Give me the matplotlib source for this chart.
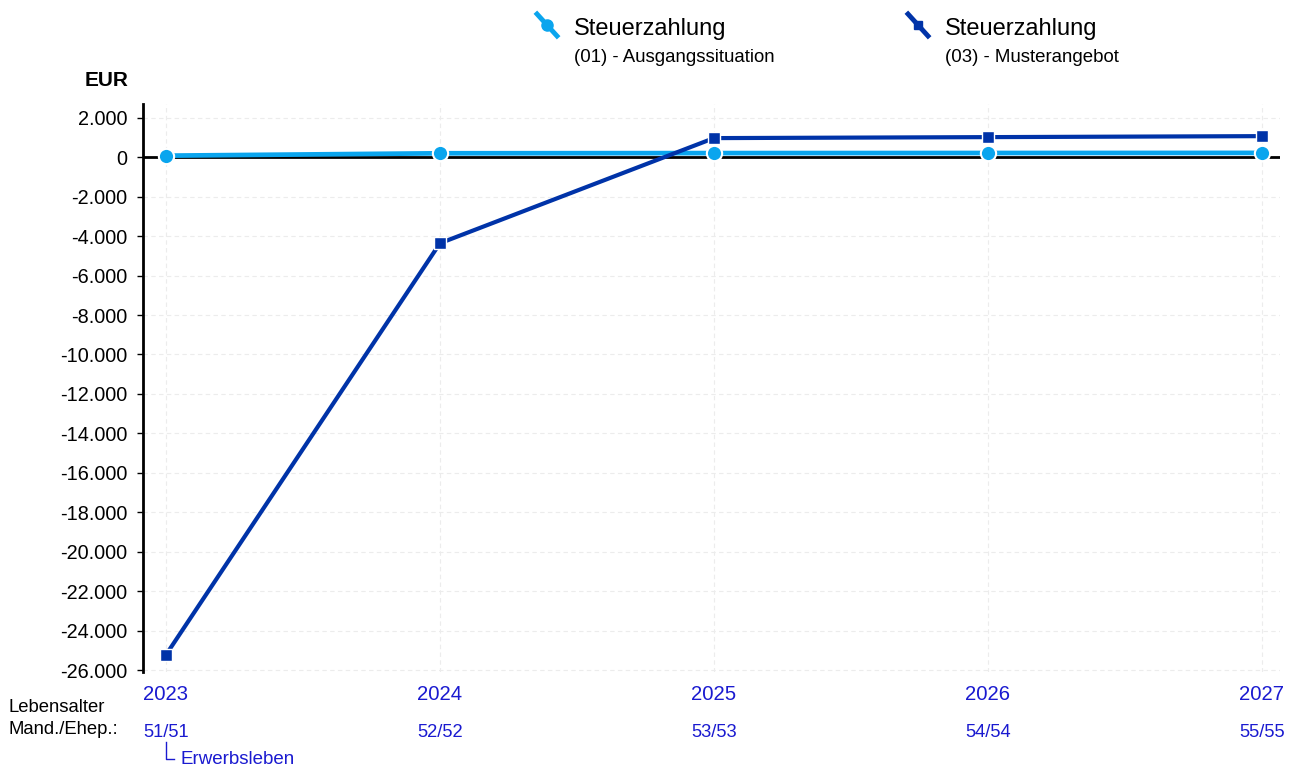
import numpy as np
import matplotlib
matplotlib.use("Agg")
import matplotlib.pyplot as plt
from matplotlib.lines import Line2D
from matplotlib.ticker import FuncFormatter

plt.rcParams["font.family"] = ["Liberation Sans", "DejaVu Sans"]

# ── Data ──────────────────────────────────────────────────────────────────────
YEARS = [2023, 2024, 2025, 2026, 2027]
AGES = ["51/51", "52/52", "53/53", "54/54", "55/55"]
AUSGANG = [80, 200, 210, 215, 220]
MUSTER = [-25230, -4360, 970, 1020, 1070]

LIGHT = "#0aa5ee"
DARK = "#0033a8"
TICKBLUE = "#1a1ad0"

fig = plt.figure(figsize=(12.96, 7.68), dpi=100)
ax = fig.add_axes([0.1103, 0.125, 0.8774, 0.7396])

ax.set_xlim(2022.916, 2027.066)
ax.set_ylim(-26100, 2700)
ax.set_yticks(np.arange(-26000, 2001, 2000))
ax.set_xticks(YEARS)

ax.grid(True, color="#ececec", linestyle=(0, (4, 3)), linewidth=0.8)
ax.axhline(0, color="black", linewidth=2, zorder=2)

ax.plot(YEARS, AUSGANG, color=LIGHT, linewidth=3.4, marker="o", markersize=11,
        markerfacecolor=LIGHT, markeredgecolor="white", markeredgewidth=1.5, zorder=4)
ax.plot(YEARS, MUSTER, color=DARK, linewidth=3.0, marker="s", markersize=8.5,
        markerfacecolor=DARK, markeredgecolor="white", markeredgewidth=1.0, zorder=5)

for s in ["top", "right", "bottom"]:
    ax.spines[s].set_visible(False)
ax.spines["left"].set_linewidth(2)
ax.spines["left"].set_color("black")

fmt = FuncFormatter(lambda v, p: f"{int(v):,}".replace(",", "."))
ax.yaxis.set_major_formatter(fmt)
ax.tick_params(axis="y", labelsize=14.3, length=4, width=1, pad=7, colors="black")
ax.tick_params(axis="x", length=0, labelsize=14.6, pad=9, labelcolor=TICKBLUE)

# ── Age row ───────────────────────────────────────────────────────────────────
for yr, age in zip(YEARS, AGES):
    ax.text(yr, -0.106, age, transform=ax.get_xaxis_transform(), ha="center",
            va="center", fontsize=13.2, color=TICKBLUE)
fig.text(8 / 1296, 1 - 707 / 768, "Lebensalter", ha="left", va="center", fontsize=13.3)
fig.text(8 / 1296, 1 - 730 / 768, "Mand./Ehep.:", ha="left", va="center", fontsize=13.3)

# Erwerbsleben bracket
fig.add_artist(Line2D([166 / 1296, 166 / 1296, 174 / 1296],
                      [1 - 742 / 768, 1 - 759 / 768, 1 - 759 / 768],
                      color=TICKBLUE, linewidth=1))
fig.text(181 / 1296, 1 - 760 / 768, "Erwerbsleben", ha="left", va="center",
         fontsize=13.5, color=TICKBLUE)

# EUR label
fig.text(128 / 1296, 1 - 81 / 768, "EUR", ha="right", va="center",
         fontsize=15, fontweight="bold")

# ── Legend ────────────────────────────────────────────────────────────────────
def legend_entry(x0, color, marker, title, sub):
    fx = lambda px: px / 1296
    fy = lambda py: 1 - py / 768
    fig.add_artist(Line2D([fx(x0), fx(x0 + 20)], [fy(14), fy(36)],
                          color=color, linewidth=3.5))
    fig.add_artist(Line2D([fx(x0 + 10)], [fy(25)], marker=marker,
                          markersize=8 if marker == "o" else 6,
                          color=color, linestyle="none"))
    fig.text(fx(x0 + 37), fy(29), title, ha="left", va="center", fontsize=17)
    fig.text(fx(x0 + 37), fy(58), sub, ha="left", va="center", fontsize=13.4)


legend_entry(537, LIGHT, "o", "Steuerzahlung", "(01) - Ausgangssituation")
legend_entry(908, DARK, "s", "Steuerzahlung", "(03) - Musterangebot")

fig.savefig("out.png", dpi=100, facecolor="white")
